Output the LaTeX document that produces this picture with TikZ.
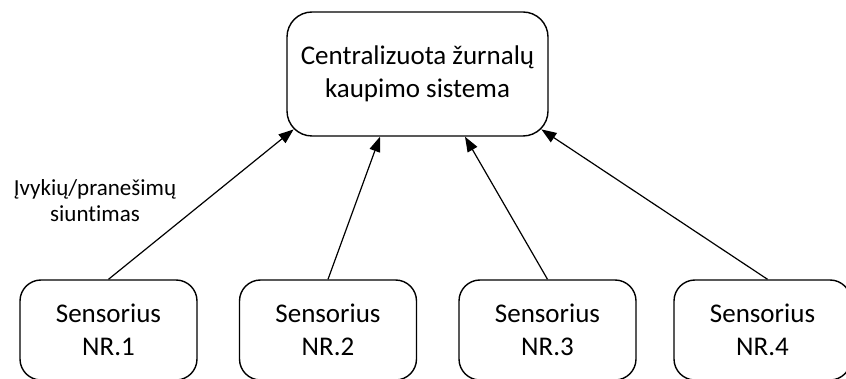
\documentclass[tikz,border=0pt]{standalone}
\usepackage{fontspec}
\setmainfont{Carlito}[Ligatures={NoCommon}]
\usetikzlibrary{arrows.meta,calc}
\begin{document}
\begin{tikzpicture}[x=1pt,y=-1pt,
  box/.style={draw,line width=1.4pt,rounded corners=25pt,align=center,
    inner sep=0pt,font=\fontsize{27}{33}\selectfont},
  sensorbox/.style={box,minimum width=177pt,minimum height=100pt,rounded corners=21pt},
  link/.style={line width=1.2pt,-{Triangle[length=15pt,width=11pt]}},
  note/.style={align=center,font=\fontsize{23}{26}\selectfont}]
  \clip (0,0) rectangle (846,379);
  \useasboundingbox (0,0) rectangle (846,379);

  % central log collection system
  \node[box,minimum width=261pt,minimum height=124pt] (top) at (417.5,74)
    {Centralizuota žurnalų\\kaupimo sistema};

  % sensors
  \node[sensorbox] (s1) at (108.5,330) {Sensorius\\NR.1};
  \node[sensorbox] (s2) at (328,330) {Sensorius\\NR.2};
  \node[sensorbox] (s3) at (547.5,330) {Sensorius\\NR.3};
  \node[sensorbox] (s4) at (762.5,330) {Sensorius\\NR.4};

  % arrival points on the central box
  \coordinate (t1) at ($(top.south west)+(7.3,-7.3)$);
  \coordinate (t2) at ($(top.south)+(-37.5,0)$);
  \coordinate (t3) at ($(top.south)+(47.5,0)$);
  \coordinate (t4) at ($(top.south east)+(-7.3,-7.3)$);

  \draw[link] (s1.north) -- (t1);
  \draw[link] (s2.north) -- (t2);
  \draw[link] (s3.north) -- (t3);
  \draw[link] ($(s4.north)+(5,0)$) -- (t4);

  \node[note] (lbl) at (95,201) {Įvykių/pranešimų\\siuntimas};
\end{tikzpicture}
\end{document}
